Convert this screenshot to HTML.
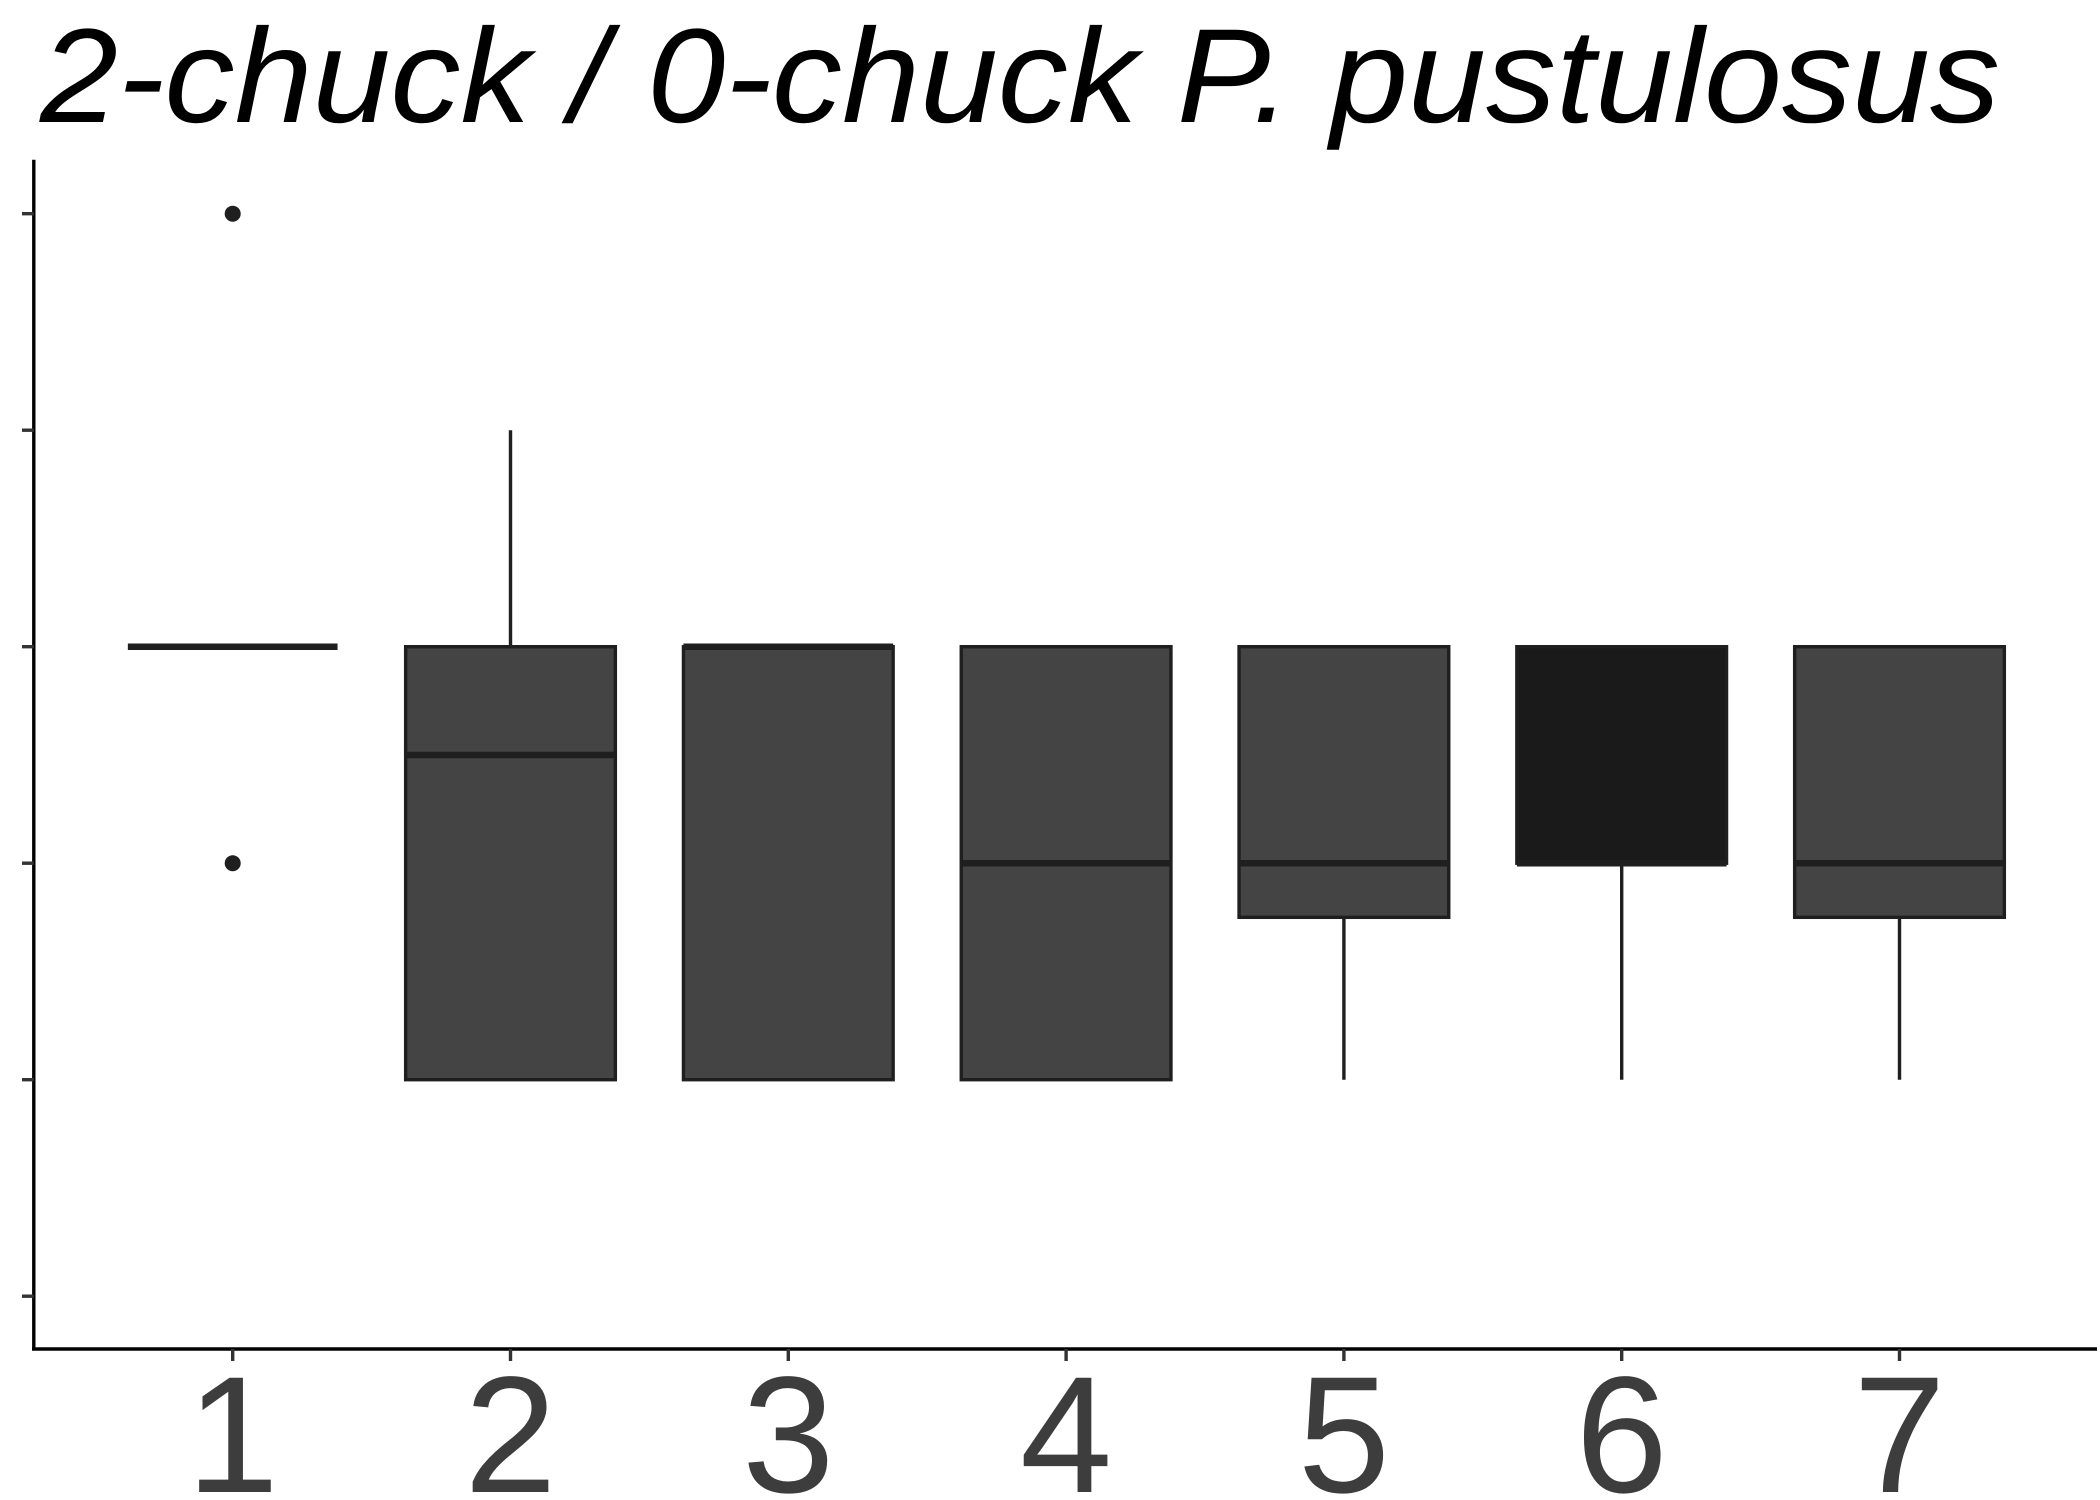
<!DOCTYPE html>
<html><head><meta charset="utf-8"><style>html,body{margin:0;padding:0;background:#fff}svg{display:block}</style></head>
<body>
<svg id="chart" width="2100" height="1500" viewBox="0 0 2100 1500" xmlns="http://www.w3.org/2000/svg">
<text x="40" y="122" font-family="Liberation Sans, sans-serif" font-style="italic" font-size="134" textLength="1960" lengthAdjust="spacingAndGlyphs" fill="#000">2-chuck / 0-chuck P. pustulosus</text>
<g id="plot"></g>
</svg>
<script>
const categories = ["1","2","3","4","5","6","7"];
const q1 = [3,1,1,1,1.75,2,1.75];
const med = [3,2.5,3,2,2,2,2];
const q3 = [3,3,3,3,3,3,3];
const whiskerLo = [3,1,1,1,1,1,1];
const whiskerHi = [3,4,3,3,3,3,3];
const outliers = [[5,2],[],[],[],[],[],[]];
const fills = ["#444444","#444444","#444444","#444444","#444444","#1a1a1a","#444444"];
const yTicks = [0,1,2,3,4,5];

const NS="http://www.w3.org/2000/svg";
const g=document.getElementById('plot');
const y=v=>1296.2-v*216.5;
const x=i=>232.7+i*277.8;
const bw=209.7;
function el(tag,attrs){const e=document.createElementNS(NS,tag);for(const k in attrs)e.setAttribute(k,attrs[k]);g.appendChild(e);return e;}
// axes
let a=el('line',{x1:33.8,y1:159.7,x2:33.8,y2:1350,stroke:'#000','stroke-width':3.4});


a=el('line',{x1:32,y1:1349,x2:2097,y2:1349,stroke:'#000','stroke-width':3.4});


yTicks.forEach(v=>{const t=el('line',{x1:22,x2:33.8,y1:y(v),y2:y(v),stroke:'#333','stroke-width':3.4});

});
categories.forEach((c,i)=>{
  const cx=x(i);
  const t=el('line',{x1:cx,x2:cx,y1:1349,y2:1361,stroke:'#333','stroke-width':3.4});
  
  
  const lb=el('text',{x:cx,y:1492,'text-anchor':'middle','font-family':'Liberation Sans, sans-serif','font-size':166,fill:'#3d3d3d'});
  lb.textContent=c;
  
  
  if(whiskerHi[i]>q3[i]){const w=el('line',{x1:cx,x2:cx,y1:y(whiskerHi[i]),y2:y(q3[i]),stroke:'#1f1f1f','stroke-width':3.4});
    
    }
  if(whiskerLo[i]<q1[i]){const w=el('line',{x1:cx,x2:cx,y1:y(q1[i]),y2:y(whiskerLo[i]),stroke:'#1f1f1f','stroke-width':3.4});
    
    }
  const b=el('rect',{x:cx-bw/2,y:y(q3[i]),width:bw,height:Math.max(0,y(q1[i])-y(q3[i])),fill:fills[i],stroke:'#1f1f1f','stroke-width':3.4});
  
  
  const m=el('line',{x1:cx-bw/2,x2:cx+bw/2,y1:y(med[i]),y2:y(med[i]),stroke:'#1f1f1f','stroke-width':6.5});
  
  
  outliers[i].forEach(v=>{const o=el('circle',{cx:cx,cy:y(v),r:8,fill:'#1f1f1f'});
    
    });
});
</script>
</body></html>
